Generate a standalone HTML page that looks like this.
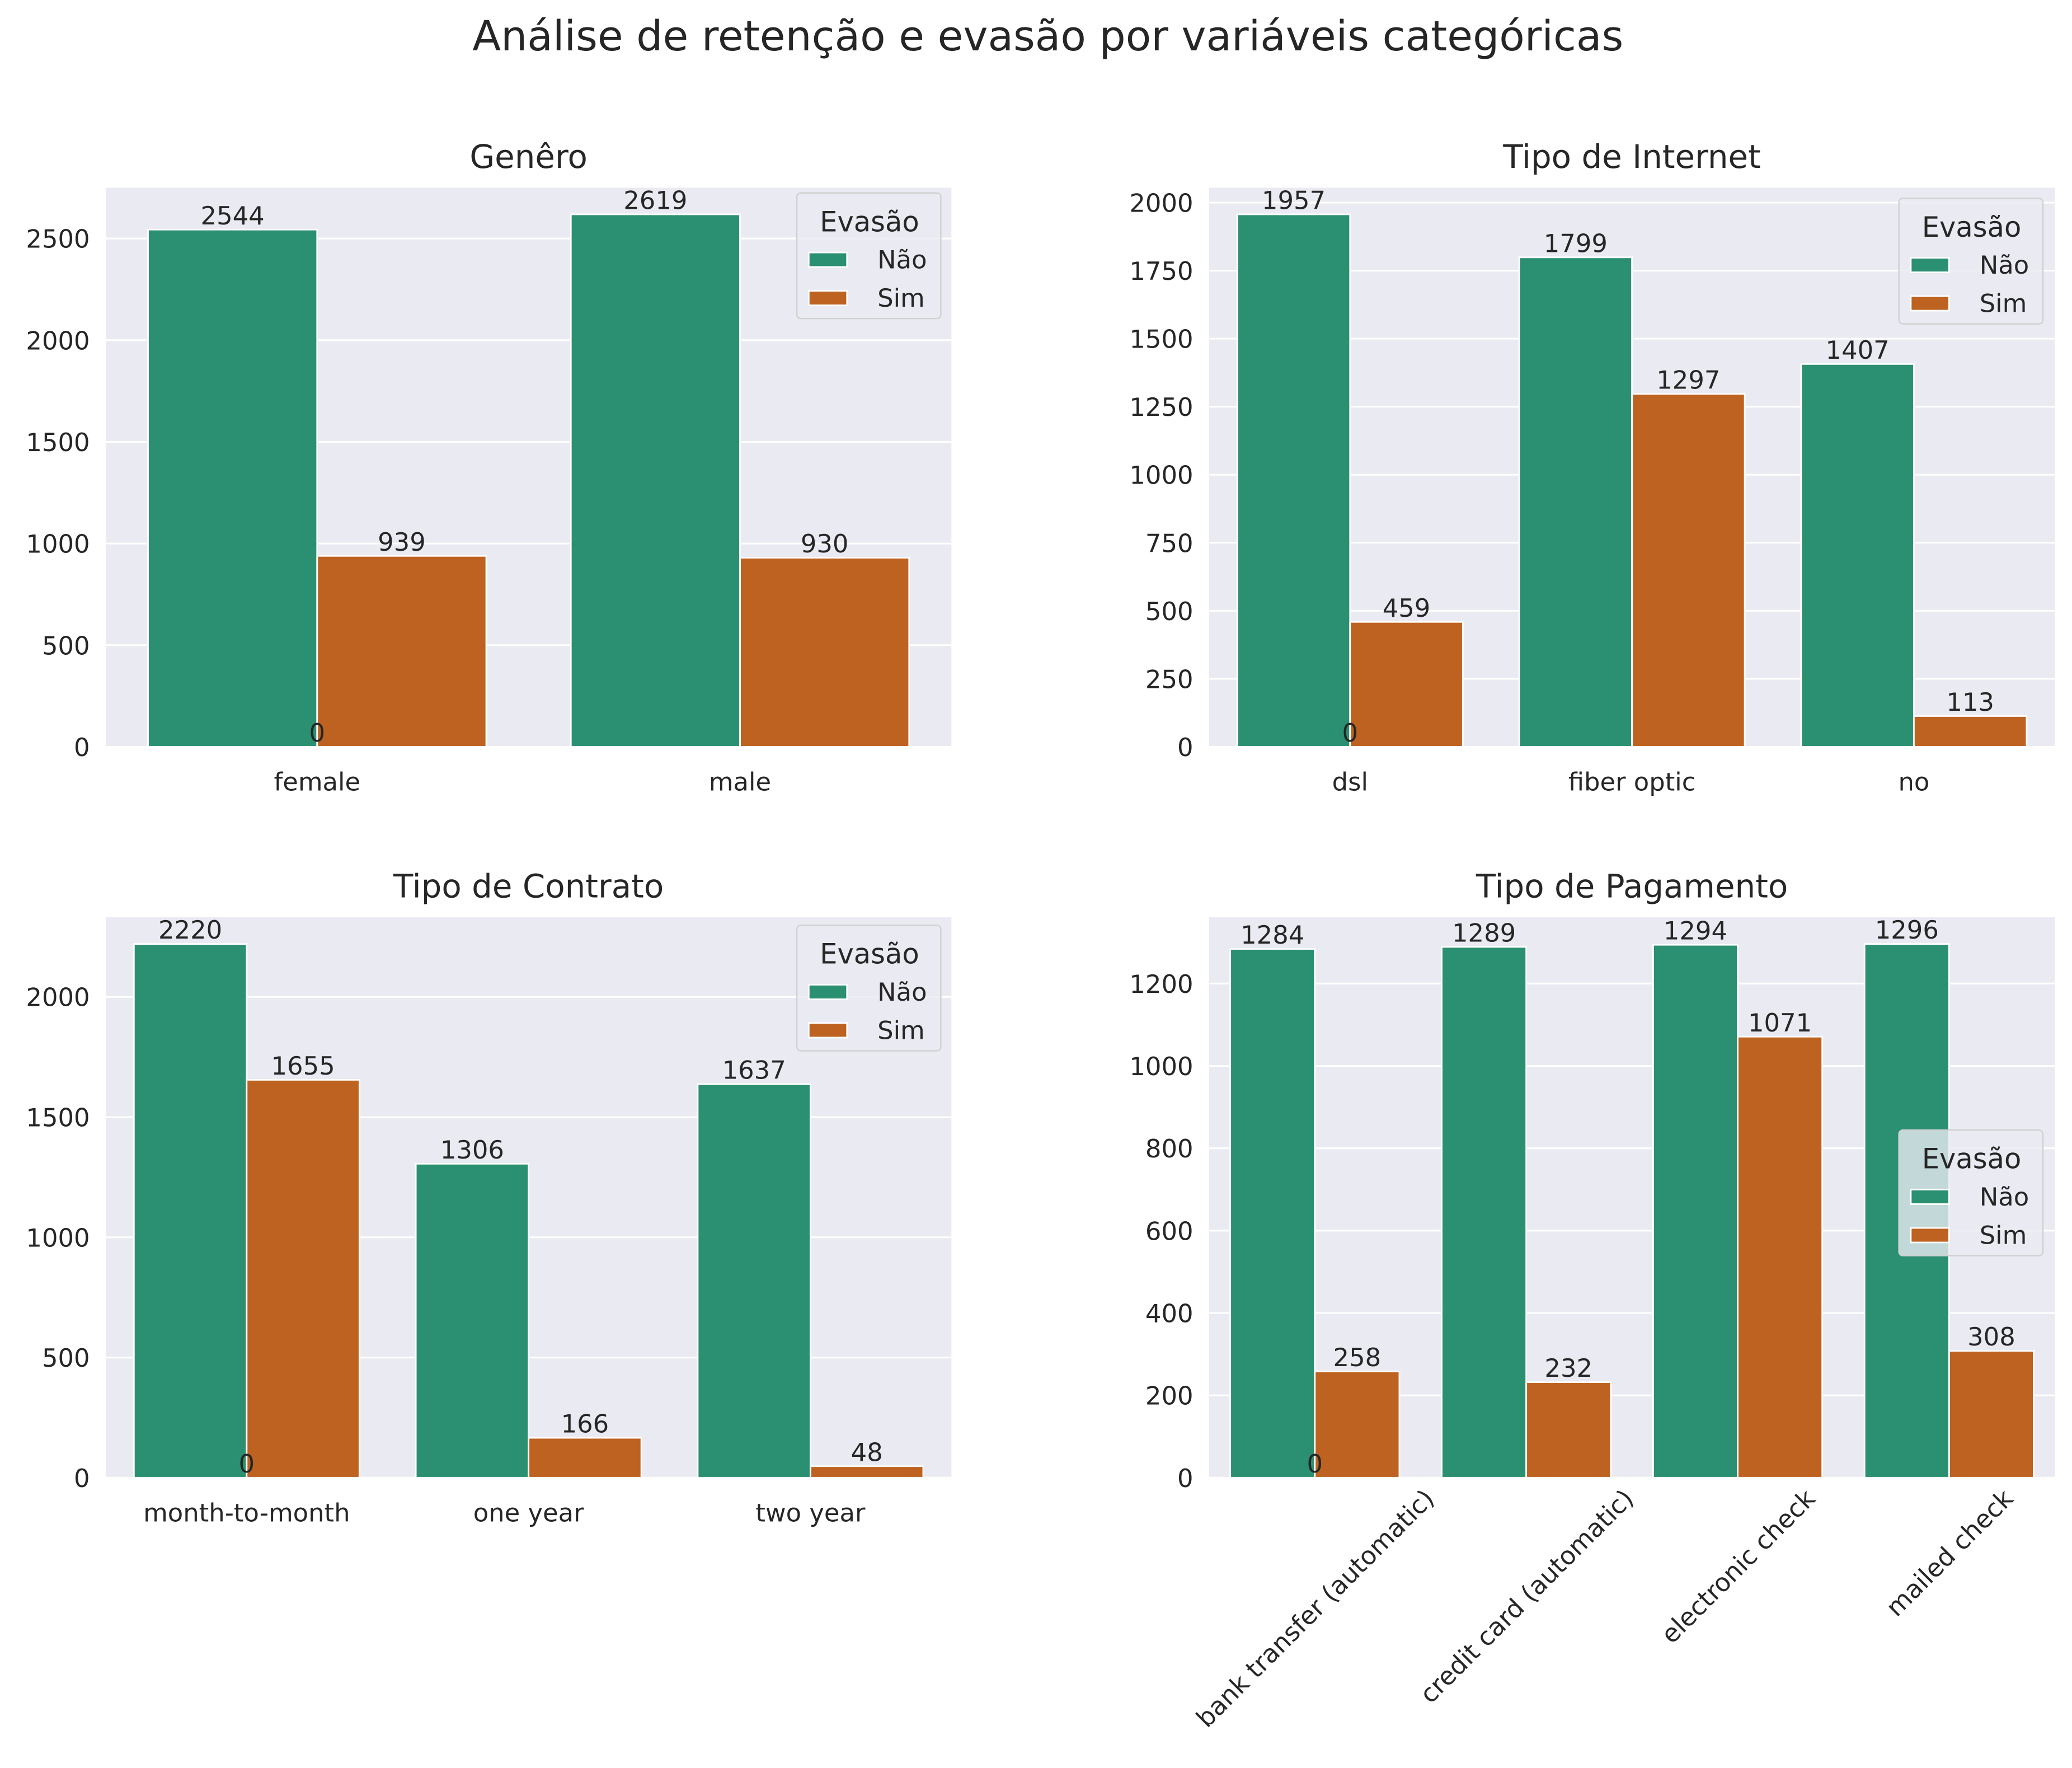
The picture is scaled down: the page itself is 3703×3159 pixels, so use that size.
<!DOCTYPE html>
<html><head><meta charset="utf-8"><style>
html,body{margin:0;padding:0;background:#fff}
svg{display:block}
text{font-family:"DejaVu Sans","Liberation Sans",sans-serif;fill:#262626}
</style></head><body>
<svg id="fig" width="3703" height="3159" viewBox="0 0 1568 1337.6" xmlns="http://www.w3.org/2000/svg">
<text x="793" y="38" font-size="31.5" text-anchor="middle">Análise de retenção e evasão por variáveis categóricas</text>
</svg>
<script>
const genderCats = ["female","male"];
const genderNao = [2544,2619];
const genderSim = [939,930];
const genderTicks = [0,500,1000,1500,2000,2500];
const netCats = ["dsl","fiber optic","no"];
const netNao = [1957,1799,1407];
const netSim = [459,1297,113];
const netTicks = [0,250,500,750,1000,1250,1500,1750,2000];
const contractCats = ["month-to-month","one year","two year"];
const contractNao = [2220,1306,1637];
const contractSim = [1655,166,48];
const contractTicks = [0,500,1000,1500,2000];
const payCats = ["bank transfer (automatic)","credit card (automatic)","electronic check","mailed check"];
const payNao = [1284,1289,1294,1296];
const paySim = [258,232,1071,308];
const payTicks = [0,200,400,600,800,1000,1200];

const NS="http://www.w3.org/2000/svg";
const fig=document.getElementById('fig');
const GREEN="#2b8f71", ORANGE="#bd6220";
function mk(tag,attrs,parent){const e=document.createElementNS(NS,tag);for(const k in attrs)e.setAttribute(k,attrs[k]);(parent||fig).appendChild(e);return e;}

function panel(key,title,cats,nao,sim,ticks,box,legend,rot){
  const g=mk('g',{});
  
  
  const [x0,y0,x1,y1]=box;
  const ymax=Math.max(...nao,...sim)*1.05;
  const Y=v=>y1-(v/ymax)*(y1-y0);
  const n=cats.length, bw=(x1-x0)/n;
  const X=i=>x0+(i+0.5)*bw;
  const bg=mk('rect',{x:x0,y:y0,width:x1-x0,height:y1-y0,fill:"#eaeaf2"},g);
  
  
  ticks.forEach(t=>{
    const l=mk('line',{x1:x0,x2:x1,y1:Y(t),y2:Y(t),stroke:"#fff","stroke-width":1.3},g);
    
    
    const tx=mk('text',{x:x0-12,y:Y(t)+7,"font-size":19,"text-anchor":"end"},g);
    tx.textContent=t;
    
    
  });
  const ti=mk('text',{x:(x0+x1)/2,y:y0-15,"font-size":24.5,"text-anchor":"middle"},g);
  ti.textContent=title;
  
  
  const w=bw*0.4;
  cats.forEach((c,i)=>{
    [[nao[i],GREEN,-1,'nao'],[sim[i],ORANGE,0,'sim']].forEach(([v,col,off,s])=>{
      const bx=X(i)+off*w;
      const r=mk('rect',{x:bx,y:Y(v),width:w,height:Y(0)-Y(v),fill:col,stroke:"#fff","stroke-width":1.2},g);
      
      
      const lb=mk('text',{x:bx+w/2,y:Y(v)-4,"font-size":19,"text-anchor":"middle"},g);
      lb.textContent=v;
      
      
    });
    let tl;
    if(rot){
      tl=mk('text',{x:0,y:0,"font-size":19,"text-anchor":"middle"},g);
      tl.textContent=c;
      const L=tl.getComputedTextLength();
      const cy=y1+12+L/2*0.7071;
      tl.setAttribute('x',X(i));
      tl.setAttribute('y',cy+7);
      tl.setAttribute('transform',`rotate(-45 ${X(i)} ${cy})`);
    } else {
      tl=mk('text',{x:X(i),y:y1+33,"font-size":19,"text-anchor":"middle"},g);
      tl.textContent=c;
    }
    
    
  });
  const z=mk('text',{x:X(0),y:Y(0)-4,"font-size":19,"text-anchor":"middle"},g);
  z.textContent="0";
  
  
  const [lx,ly]=legend;
  const lg=mk('g',{},g);
  
  
  mk('rect',{x:lx,y:ly,width:109,height:95,rx:3,fill:"#eaeaf2","fill-opacity":0.8,stroke:"#d0d0d0","stroke-width":1},lg);
  const lt=mk('text',{x:lx+55,y:ly+29,"font-size":21,"text-anchor":"middle"},lg);
  lt.textContent="Evasão";
  
  
  [["Não",GREEN,45],["Sim",ORANGE,74]].forEach(([t,col,dy])=>{
    const sw=mk('rect',{x:lx+9,y:ly+dy,width:29,height:11,fill:col,stroke:"#fff","stroke-width":1.2},lg);
    
    
    const te=mk('text',{x:lx+61,y:ly+dy+12,"font-size":19},lg);
    te.textContent=t;
    
    
  });
}
panel('gender','Genêro',genderCats,genderNao,genderSim,genderTicks,[80,142,720,565],[603,146],false);
panel('internet','Tipo de Internet',netCats,netNao,netSim,netTicks,[915,142,1555,565],[1437,150],false);
panel('contract','Tipo de Contrato',contractCats,contractNao,contractSim,contractTicks,[80,694,720,1118],[603,700],false);
panel('payment','Tipo de Pagamento',payCats,payNao,paySim,payTicks,[915,694,1555,1118],[1437,855],true);
</script>
</body></html>
